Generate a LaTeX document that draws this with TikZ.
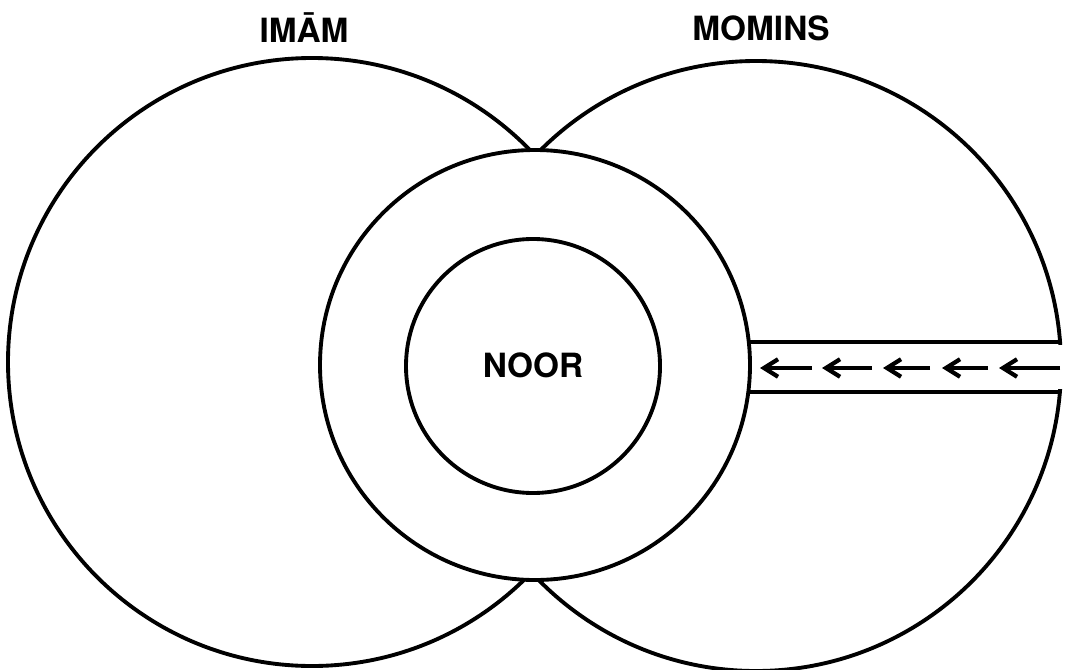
\documentclass[tikz,border=0pt]{standalone}
\usepackage{fontspec}
\setmainfont{TeX Gyre Heros}
\usetikzlibrary{arrows.meta}
\tikzset{lbl/.style={font=\fontsize{19}{21}\selectfont\bfseries}}

\begin{document}
\begin{tikzpicture}[x=0.02cm,y=-0.02cm,line width=2.2pt,
    >={Straight Barb[length=8pt,width=10pt,line width=2.4pt]}]
  \useasboundingbox (0,0) rectangle (1067,669);
  \coordinate (imam) at (312,362);
  \coordinate (momins) at (756,366);
  \coordinate (ring) at (535,365);
  \coordinate (core) at (533,366);
  \draw (imam) circle[radius=304];
  \draw (momins) circle[radius=305];
  \draw[fill=white] (ring) circle[radius=215];
  \draw (core) circle[radius=127];
  % channel from the Momins into the ring
  \fill[white] (1035,345) rectangle (1075,389);
  \coordinate (ct1) at (749,342);
  \coordinate (ct2) at (1060,342);
  \coordinate (cb1) at (749,392);
  \coordinate (cb2) at (1060,392);
  \draw (ct1) -- (ct2);
  \draw (cb1) -- (cb2);
  \foreach \a/\b in {812/760,872/822,930/883,988/942,1060/999}
    \draw[->,line width=2.6pt] (\a,368) -- (\b,368);
  \node[lbl] (imamlbl) at (304,28) {IMĀM};
  \node[lbl] (mominslbl) at (761,28) {MOMINS};
  \node[lbl] (noor) at (533,365) {NOOR};
\end{tikzpicture}
\end{document}
